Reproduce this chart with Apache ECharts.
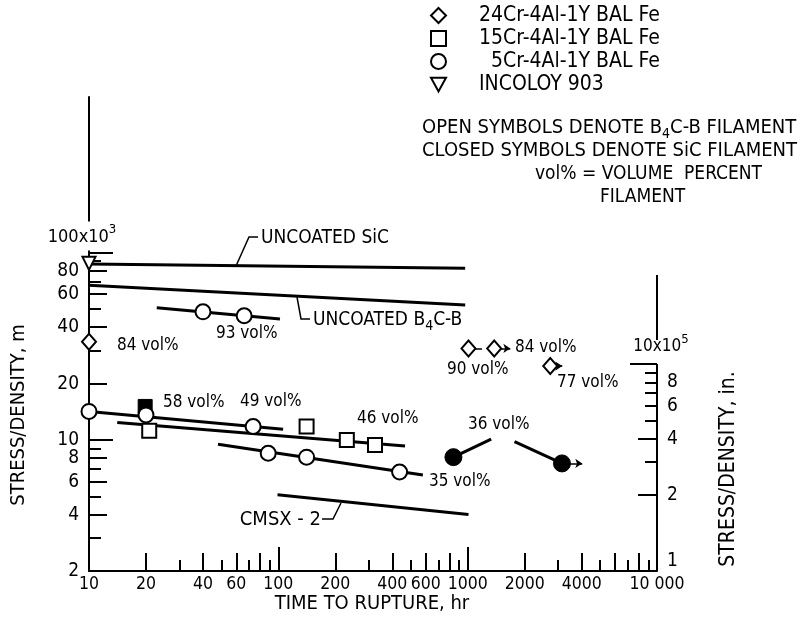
<!DOCTYPE html>
<html><head><meta charset="utf-8">
<script src="https://cdn.jsdelivr.net/npm/echarts@6/dist/echarts.min.js"></script>
<style>html,body{margin:0;padding:0;background:#fff}#c{width:804px;height:625px}</style>
</head><body><div id="c"></div>
<script>
// ---- data: [time to rupture (hr), stress/density (10^3 m)] ----
const uncoatedSiC = [[10, 87], [970, 82.6]];
const uncoatedB4C = [[10, 67], [970, 52.5]];
const cmsx2 = [[99, 5.1], [1010, 4.0]];
const fit93 = [[22.8, 50.8], [102, 44.2]];
const fit49 = [[10, 14.2], [106, 11.4]];
const fit46 = [[14.1, 12.4], [467, 9.3]];
const fit35 = [[48, 9.5], [580, 6.5]];
const fe24CrOpen = [[10, 33.4], [1010, 30.8], [1381, 30.8], [2730, 24.8]];
const fe15CrOpen = [[20.8, 11.2], [141, 11.8], [230, 10], [324, 9.4]];
const fe15CrClosed = [[19.8, 15.1]];
const fe5CrOpen = [[40, 48.3], [66, 46], [10, 14.2], [20, 13.6], [73.6, 11.8], [88.4, 8.5], [141, 8.1], [437, 6.75]];
const fe5CrClosed = [[841, 8.1], [3148, 7.5]];
const incoloy903 = [[10, 87.6]];
// runout (test discontinued) marks: [from point, to]
const runoutDash = [[[1010, 30.8], [1190, 30.8]]];
const runoutArrows = [[[1381, 30.8], [1680, 30.8]], [[2730, 24.8], [3160, 24.8]], [[3148, 7.5], [4030, 7.5]]];
const leader36 = [[[841, 8.1], [1331, 10.1]], [[1768, 9.8], [3148, 7.5]]];

// ---- ticks / labels ----
const xLabelVals = [10, 20, 40, 60, 100, 200, 400, 600, 1000, 2000, 4000, 10000];
const xMidTicks = [20, 40, 60, 80, 200, 400, 600, 800, 2000, 4000, 6000, 8000];
const xLongTicks = [100, 1000];
const xShortTicks = [30, 50, 70, 90, 300, 500, 700, 900, 3000, 5000, 7000, 9000];
const yLabelVals = [2, 4, 6, 8, 10, 20, 40, 60, 80];
const yMidTicks = [4, 6, 8, 20, 40, 60, 80];
const yLongTicks = [10, 100];
const yShortTicks = [3, 5, 7, 9, 30, 50, 70, 90];
const rLabelVals = [1, 2, 4, 6, 8];
const rMidTicks = [2, 4];
const rLongTicks = [10];
const rShortTicks = [3, 5, 6, 7, 8, 9];

const legendNames = ['24Cr-4Al-1Y BAL Fe', '15Cr-4Al-1Y BAL Fe', '  5Cr-4Al-1Y BAL Fe', 'INCOLOY 903'];

const FONT = "'DejaVu Sans Condensed', 'Liberation Sans Narrow', 'DejaVu Sans', sans-serif";
const lg = Math.log10;
const L = arr => arr.map(([t, s]) => [lg(t), lg(s)]);

const xMin = lg(10), xMax = lg(10000);
const yMin = lg(2), yMax = 2.83;
const rOff = lg(1000 / 0.0254 / 1e5); // 10^3 m -> 10^5 in

function xAx(ticks, len, withLabel) {
  return {
    type: 'value', min: xMin, max: xMax, position: 'bottom', splitLine: { show: false },
    axisLine: { show: withLabel, onZero: false, lineStyle: { color: '#000', width: 2 } },
    axisTick: { show: true, inside: true, length: len, customValues: ticks.map(lg), lineStyle: { color: '#000', width: 2 } },
    axisLabel: withLabel ? {
      show: true, customValues: xLabelVals.map(lg), margin: 4, color: '#000', fontFamily: FONT, fontSize: 17.5,
      formatter: v => { const n = Math.round(Math.pow(10, v)); return n === 10000 ? '10 000' : String(n); }
    } : { show: false }
  };
}
function yAx(pos, off, ticks, len, labels, showLine) {
  return {
    type: 'value', min: yMin + off, max: yMax + off, position: pos, splitLine: { show: false },
    axisLine: { show: showLine, onZero: false, lineStyle: { color: '#000', width: 2 } },
    axisTick: { show: true, inside: true, length: len, customValues: ticks.map(lg), lineStyle: { color: '#000', width: 2 } },
    axisLabel: labels ? {
      show: true, customValues: labels.map(lg), margin: 10, color: '#000', fontFamily: FONT, fontSize: 19,
      formatter: v => { const n = Math.round(Math.pow(10, v)); return n === 1 ? '{one|1}' : String(n); },
      rich: { one: { fontFamily: FONT, fontSize: 19, color: '#000', padding: [20, 0, 0, 0] } }
    } : { show: false }
  };
}

const openStyle = { color: '#fff', borderColor: '#000', borderWidth: 2, opacity: 1 };
const closedStyle = { color: '#000', borderColor: '#000', borderWidth: 1, opacity: 1 };
const fitLine = (d, name) => ({
  type: 'line', name, data: L(d), symbol: 'none', showSymbol: false, silent: true, z: 2,
  lineStyle: { color: '#000', width: 3 }
});
const scatter = (name, d, symbol, size, style, extra) => Object.assign({
  type: 'scatter', name, data: L(d), symbol, symbolSize: size, itemStyle: style, z: 10, silent: true
}, extra || {});

const series = [
  fitLine(uncoatedSiC, 'UNCOATED SiC'),
  fitLine(uncoatedB4C, 'UNCOATED B4C-B'),
  fitLine(cmsx2, 'CMSX-2'),
  fitLine(fit93, 'fit93'),
  fitLine(fit49, 'fit49'),
  fitLine(fit46, 'fit46'),
  fitLine(fit35, 'fit35'),
  fitLine(leader36[0], 'lead36a'),
  fitLine(leader36[1], 'lead36b'),
  {
    type: 'line', name: 'runouts', data: [], silent: true, z: 3,
    markLine: {
      silent: true, animation: false, z: 3, symbol: ['none', 'arrow'], symbolSize: 7,
      label: { show: false }, lineStyle: { type: 'solid', color: '#000', width: 1.5 },
      data: runoutArrows.map(([a, b]) => [{ coord: [lg(a[0]), lg(a[1])] }, { coord: [lg(b[0]), lg(b[1])] }])
        .concat(runoutDash.map(([a, b]) => [{ coord: [lg(a[0]), lg(a[1])], symbol: 'none' }, { coord: [lg(b[0]), lg(b[1])], symbol: 'none' }]))
    }
  },
  scatter('15Cr-4Al-1Y BAL Fe (SiC)', fe15CrClosed, 'rect', 14, closedStyle, { z: 9 }),
  scatter(legendNames[0], fe24CrOpen, 'diamond', [14, 16], openStyle),
  scatter(legendNames[1], fe15CrOpen, 'rect', 14, openStyle),
  scatter(legendNames[2], fe5CrOpen, 'circle', 15, openStyle),
  scatter(legendNames[3], incoloy903, 'triangle', 13, openStyle, { symbolRotate: 180 }),
  scatter('5Cr-4Al-1Y BAL Fe (SiC)', fe5CrClosed, 'circle', 17, closedStyle)
];

const txt = (x, y, text, extra) => ({
  type: 'text', x, y, z: 100, silent: true,
  style: Object.assign({
    text, fontFamily: FONT, fontSize: 17, fill: '#000', align: 'left', verticalAlign: 'middle',
    rich: {
      sub: { fontFamily: FONT, fontSize: 14, fill: '#000', padding: [12, 0, 0, 0] },
      sup: { fontFamily: FONT, fontSize: 13, fill: '#000', padding: [0, 0, 14, 0] }
    }
  }, extra || {})
});
const seg = (points, w) => ({
  type: 'polyline', z: 100, silent: true, shape: { points },
  style: { stroke: '#000', lineWidth: w || 1.5, fill: null }
});

const graphic = [
  // axis titles
  txt(19, 415, 'STRESS/DENSITY, m', { align: 'center', fontSize: 20 }),
  txt(729, 469, 'STRESS/DENSITY, in.', { align: 'center', fontSize: 21 }),
  txt(372, 604, 'TIME TO RUPTURE, hr', { align: 'center', fontSize: 20 }),
  txt(82, 236, '100x10{sup|3}', { align: 'center', fontSize: 18, backgroundColor: '#fff', padding: [2, 2, 0, 2] }),
  txt(661, 347, '10x10{sup|5}', { align: 'center', fontSize: 17 }),
  // right frame
  seg([[657, 275], [657, 340]], 2),
  seg([[657, 364], [657, 571]], 2),
  // annotations
  seg([[236, 266], [249, 237], [258, 237]]),
  txt(261, 238, 'UNCOATED SiC', { fontSize: 19 }),
  seg([[297, 297], [301, 319], [310, 319]]),
  txt(313, 320, 'UNCOATED B{sub|4}C-B', { fontSize: 19 }),
  seg([[322, 519], [333, 519], [341, 503]]),
  txt(321, 520, 'CMSX - 2', { align: 'right', fontSize: 20 }),
  txt(117, 346, '84 vol%'),
  txt(216, 334, '93 vol%'),
  txt(163, 403, '58 vol%'),
  txt(240, 402, '49 vol%'),
  txt(357, 419, '46 vol%'),
  txt(468, 425, '36 vol%'),
  txt(429, 482, '35 vol%'),
  txt(447, 370, '90 vol%'),
  txt(515, 348, '84 vol%'),
  txt(557, 383, '77 vol%'),
  // notes
  txt(422, 128, 'OPEN SYMBOLS DENOTE B{sub|4}C-B FILAMENT', { fontSize: 20 }),
  txt(422, 151, 'CLOSED SYMBOLS DENOTE SiC FILAMENT', { fontSize: 20 }),
  txt(535, 174, 'vol% = VOLUME  PERCENT', { fontSize: 19 }),
  txt(600, 197, 'FILAMENT', { fontSize: 19 })
];
graphic[0].rotation = Math.PI / 2;
graphic[1].rotation = Math.PI / 2;

const chart = echarts.init(document.getElementById('c'), null, { renderer: 'canvas' });
chart.setOption({
  animation: false,
  backgroundColor: '#fff',
  grid: { left: 89, right: 147, top: 97, bottom: 54, containLabel: false, outerBoundsMode: 'none' },
  legend: {
    orient: 'vertical', left: 430, top: 4, padding: 0, itemWidth: 15, itemHeight: 15, itemGap: 0,
    selectedMode: false,
    data: legendNames.map((n, i) => i === 3 ? { name: n, icon: 'path://M0,0L12,0L6,11Z' } : { name: n }),
    textStyle: { fontFamily: FONT, fontSize: 21, color: '#000', lineHeight: 23, padding: [0, 0, 0, 28] }
  },
  xAxis: [xAx(xMidTicks, 18, true), xAx(xLongTicks, 24, false), xAx(xShortTicks, 11, false)],
  yAxis: [
    yAx('left', 0, yMidTicks, 18, yLabelVals, true),
    yAx('left', 0, yLongTicks, 24, null, false),
    yAx('left', 0, yShortTicks, 12, null, false),
    yAx('right', rOff, rMidTicks, 19, rLabelVals, false),
    yAx('right', rOff, rLongTicks, 27, null, false),
    yAx('right', rOff, rShortTicks, 12, null, false)
  ],
  graphic,
  series
});
</script></body></html>
